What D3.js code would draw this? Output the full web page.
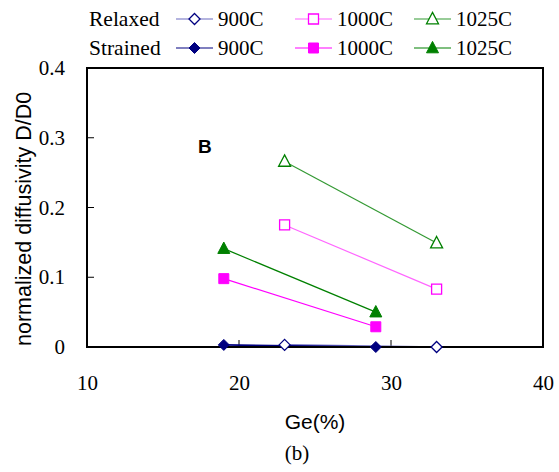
<!DOCTYPE html>
<html>
<head>
<meta charset="utf-8">
<script src="https://cdn.jsdelivr.net/npm/d3@7/dist/d3.min.js"></script>
<style>
  body { margin: 0; background: #fff; }
  svg { display: block; }
</style>
</head>
<body>
<div id="chart"></div>
<script>
// Ge content (%) for each sample set
const relaxedGe = [23, 33];
const strainedGe = [19, 29];

// normalized diffusivity
const relaxed900 = [0.003, 0.0];
const relaxed1000 = [0.175, 0.083];
const relaxed1025 = [0.266, 0.149];
const strained900 = [0.003, 0.0];
const strained1000 = [0.098, 0.029];
const strained1025 = [0.141, 0.05];

const temps = ['900C', '1000C', '1025C'];
const xTicks = [10, 20, 30, 40];
const yTicks = [0, 0.1, 0.2, 0.3, 0.4];

const width = 559;
const height = 472;
const margin = {top: 68, right: 16, bottom: 125, left: 87};
const chartWidth = width - margin.left - margin.right;
const chartHeight = height - margin.top - margin.bottom;

const serif = 'Liberation Serif, Times New Roman, serif';
const sans = 'Liberation Sans, Arial, sans-serif';

// one entry per plotted series
const series = [
    {group: 'Relaxed', temp: temps[0], ge: relaxedGe, vals: relaxed900, line: '#6b6bbf', color: '#000080', shape: 'diamond', open: true},
    {group: 'Relaxed', temp: temps[1], ge: relaxedGe, vals: relaxed1000, line: '#ff66ff', color: '#ff00ff', shape: 'square', open: true},
    {group: 'Relaxed', temp: temps[2], ge: relaxedGe, vals: relaxed1025, line: '#339933', color: '#008000', shape: 'triangle', open: true},
    {group: 'Strained', temp: temps[0], ge: strainedGe, vals: strained900, line: '#000080', color: '#000080', shape: 'diamond', open: false},
    {group: 'Strained', temp: temps[1], ge: strainedGe, vals: strained1000, line: '#ff00ff', color: '#ff00ff', shape: 'square', open: false},
    {group: 'Strained', temp: temps[2], ge: strainedGe, vals: strained1025, line: '#008000', color: '#008000', shape: 'triangle', open: false}
];

// marker outlines, r is half the marker width
const symbolType = {
    diamond: {draw(ctx, r) {
        ctx.moveTo(0, -r); ctx.lineTo(r, 0); ctx.lineTo(0, r); ctx.lineTo(-r, 0); ctx.closePath();
    }},
    square: {draw(ctx, r) {
        ctx.rect(-r, -r, 2 * r, 2 * r);
    }},
    triangle: {draw(ctx, r) {
        ctx.moveTo(0, -r * 1.1); ctx.lineTo(r, r * 0.8); ctx.lineTo(-r, r * 0.8); ctx.closePath();
    }}
};
const symbolSize = {diamond: 5.5, square: 5, triangle: 6};

function drawSymbol(sel, s) {
    sel.append('path')
        .attr('d', d3.symbol(symbolType[s.shape], symbolSize[s.shape])())
        .attr('fill', s.open ? '#fff' : s.color)
        .attr('stroke', s.color)
        .attr('stroke-width', s.open ? 1.3 : 1);
}

const svg = d3.select('#chart')
  .append('svg')
    .attr('width', width)
    .attr('height', height);

const xScale = d3.scaleLinear()
    .domain([10, 40])
    .range([0, chartWidth]);

const yScale = d3.scaleLinear()
    .domain([0, 0.4])
    .range([chartHeight, 0]);

const chart = svg.append('g')
    .attr('transform', `translate(${margin.left},${margin.top})`);

// tick labels
const xAxis = d3.axisBottom(xScale)
    .tickValues(xTicks)
    .tickSize(0)
    .tickPadding(28)
    .tickFormat(d3.format('d'));

const yAxis = d3.axisLeft(yScale)
    .tickValues(yTicks)
    .tickSize(0)
    .tickPadding(22)
    .tickFormat(d => d === 0 ? '0' : d3.format('.1f')(d));

chart.append('g')
    .attr('transform', `translate(0,${chartHeight})`)
    .call(xAxis)
    .attr('font-family', serif)
    .attr('font-size', 21)
    .call(g => g.select('.domain').remove())
    .selectAll('text')
    .attr('fill', '#000');

chart.append('g')
    .call(yAxis)
    .attr('font-family', serif)
    .attr('font-size', 21)
    .call(g => g.select('.domain').remove())
    .selectAll('text')
    .attr('fill', '#000');

// inner ticks
chart.append('g')
    .selectAll('line')
    .data(xTicks.slice(1, -1))
    .join('line')
    .attr('x1', d => xScale(d))
    .attr('x2', d => xScale(d))
    .attr('y1', chartHeight)
    .attr('y2', chartHeight - 7)
    .attr('stroke', '#000')
    .attr('stroke-width', 1);

chart.append('g')
    .selectAll('line')
    .data(yTicks.slice(1, -1))
    .join('line')
    .attr('x1', 0)
    .attr('x2', 7)
    .attr('y1', d => yScale(d))
    .attr('y2', d => yScale(d))
    .attr('stroke', '#000')
    .attr('stroke-width', 1);

// data lines and markers
const line = d3.line()
    .x(d => xScale(d[0]))
    .y(d => yScale(d[1]));

const drawOrder = [2, 1, 5, 4, 0, 3];
drawOrder.forEach(i => {
    const s = series[i];
    const pts = s.ge.map((g, j) => [g, s.vals[j]]);
    chart.append('path')
        .datum(pts)
        .attr('d', line)
        .attr('fill', 'none')
        .attr('stroke', s.line)
        .attr('stroke-width', s.shape === 'diamond' ? 1.6 : 1.2);
});

// plot frame
chart.append('rect')
    .attr('width', chartWidth)
    .attr('height', chartHeight)
    .attr('fill', 'none')
    .attr('stroke', '#000')
    .attr('stroke-width', 2);

drawOrder.forEach(i => {
    const s = series[i];
    s.ge.forEach((g, j) => {
        const m = chart.append('g')
            .attr('transform', `translate(${xScale(g)},${yScale(s.vals[j])})`);
        drawSymbol(m, s);
    });
});

chart.append('text')
    .attr('x', 111)
    .attr('y', 85)
    .attr('font-family', sans)
    .attr('font-weight', 'bold')
    .attr('font-size', 19)
    .text('B');

// axis titles
svg.append('text')
    .attr('x', 315)
    .attr('y', 429)
    .attr('text-anchor', 'middle')
    .attr('font-family', sans)
    .attr('font-size', 21)
    .text('Ge(%)');

svg.append('text')
    .attr('x', 297)
    .attr('y', 460)
    .attr('text-anchor', 'middle')
    .attr('font-family', serif)
    .attr('font-size', 21)
    .text('(b)');

svg.append('clipPath')
    .attr('id', 'ytitle-clip')
  .append('rect')
    .attr('x', 0)
    .attr('y', 75)
    .attr('width', 60)
    .attr('height', 300);

svg.append('g')
    .attr('clip-path', 'url(#ytitle-clip)')
  .append('text')
    .attr('transform', 'translate(31,346) rotate(-90)')
    .attr('font-family', sans)
    .attr('font-size', 21.5)
    .text('normalized diffusivity D/D0');

// legend
const legend = svg.append('g');
const rowY = {Relaxed: 19, Strained: 48};
const colX = [176, 295, 414];

legend.selectAll('.group-label')
    .data(['Relaxed', 'Strained'])
    .join('text')
    .attr('x', 89)
    .attr('y', d => rowY[d] + 7)
    .attr('font-family', serif)
    .attr('font-size', 21.5)
    .text(d => d);

series.forEach(s => {
    const col = temps.indexOf(s.temp);
    const y = rowY[s.group];
    const x = colX[col];
    legend.append('line')
        .attr('x1', x)
        .attr('x2', x + 37)
        .attr('y1', y)
        .attr('y2', y)
        .attr('stroke', s.line)
        .attr('stroke-width', 1.2);
    const m = legend.append('g')
        .attr('transform', `translate(${x + 18.5},${y})`);
    drawSymbol(m, s);
    legend.append('text')
        .attr('x', x + 42)
        .attr('y', y + 7)
        .attr('font-family', serif)
        .attr('font-size', 21)
        .text(s.temp);
});
</script>
</body>
</html>
